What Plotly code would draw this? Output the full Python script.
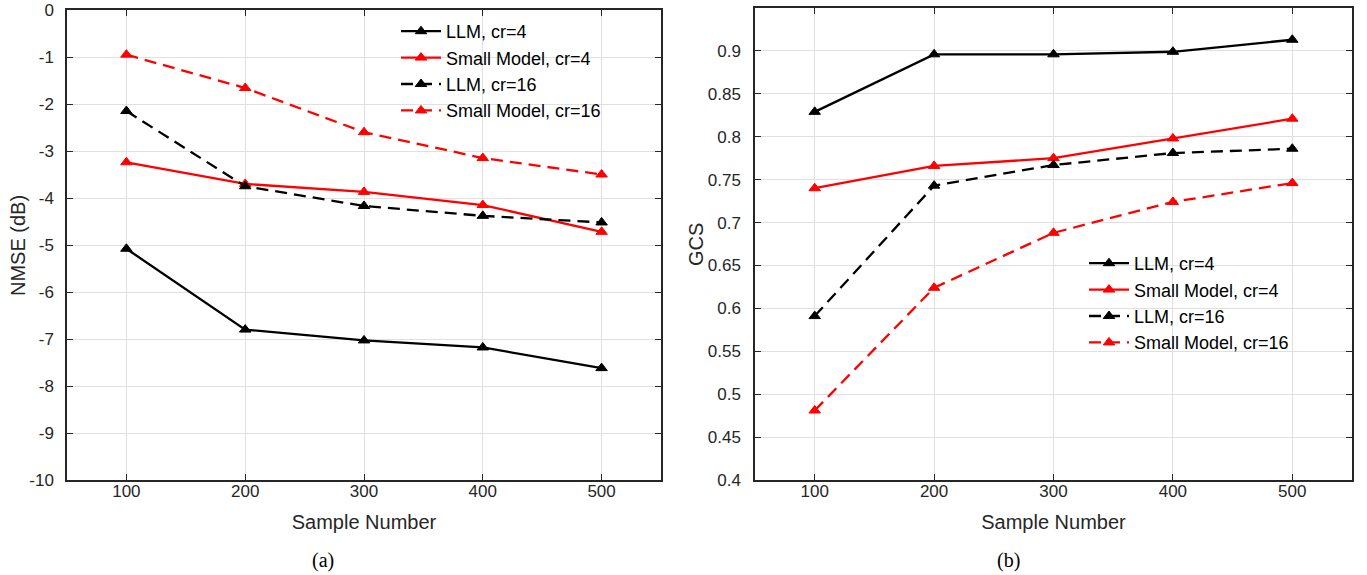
import plotly.graph_objects as go

samples = [100, 200, 300, 400, 500]
series_names = ["LLM, cr=4", "Small Model, cr=4", "LLM, cr=16", "Small Model, cr=16"]

nmse_llm_cr4 = [-5.08, -6.80, -7.03, -7.18, -7.62]
nmse_small_cr4 = [-3.24, -3.70, -3.87, -4.15, -4.72]
nmse_llm_cr16 = [-2.15, -3.75, -4.17, -4.38, -4.52]
nmse_small_cr16 = [-0.95, -1.66, -2.60, -3.15, -3.50]

gcs_llm_cr4 = [0.829, 0.896, 0.896, 0.899, 0.913]
gcs_small_cr4 = [0.740, 0.766, 0.775, 0.798, 0.821]
gcs_llm_cr16 = [0.591, 0.743, 0.767, 0.781, 0.786]
gcs_small_cr16 = [0.481, 0.624, 0.688, 0.724, 0.746]

x_ticks = [100, 200, 300, 400, 500]
nmse_ticks = [0, -1, -2, -3, -4, -5, -6, -7, -8, -9, -10]
nmse_tick_text = ["0", "-1", "-2", "-3", "-4", "-5", "-6", "-7", "-8", "-9", "-10"]
gcs_ticks = [0.4, 0.45, 0.5, 0.55, 0.6, 0.65, 0.7, 0.75, 0.8, 0.85, 0.9]
gcs_tick_text = ["0.4", "0.45", "0.5", "0.55", "0.6", "0.65", "0.7", "0.75", "0.8", "0.85", "0.9"]

colors = ["#000000", "#ff0000", "#000000", "#ff0000"]
dashes = ["solid", "solid", "12px,7px", "12px,7px"]

FONT = "Liberation Sans, Arial, sans-serif"
SERIF = "Liberation Serif, Times New Roman, serif"
TXT = "#262626"

fig = go.Figure()

left_data = [nmse_llm_cr4, nmse_small_cr4, nmse_llm_cr16, nmse_small_cr16]
right_data = [gcs_llm_cr4, gcs_small_cr4, gcs_llm_cr16, gcs_small_cr16]

for i, ys in enumerate(left_data):
    fig.add_trace(go.Scatter(
        x=samples, y=ys, name=series_names[i], mode="lines+markers",
        line=dict(color=colors[i], width=2.3, dash=dashes[i]),
        marker=dict(symbol="triangle-up", size=10, color=colors[i],
                    line=dict(color=colors[i], width=1)),
        xaxis="x", yaxis="y", legend="legend"))

for i, ys in enumerate(right_data):
    fig.add_trace(go.Scatter(
        x=samples, y=ys, name=series_names[i], mode="lines+markers",
        line=dict(color=colors[i], width=2.3, dash=dashes[i]),
        marker=dict(symbol="triangle-up", size=10, color=colors[i],
                    line=dict(color=colors[i], width=1)),
        xaxis="x2", yaxis="y2", legend="legend2"))

axis_common = dict(
    showline=True, linecolor=TXT, linewidth=1.5, mirror="allticks",
    ticks="inside", ticklen=6, tickcolor=TXT, tickwidth=1,
    showgrid=True, gridcolor="#e0e0e0", gridwidth=1, zeroline=False,
    tickfont=dict(family=FONT, size=17, color=TXT), automargin=False,
)
title_font = dict(size=20, family=FONT, color=TXT)

fig.update_layout(
    width=1367, height=575,
    margin=dict(l=0, r=0, t=0, b=0, autoexpand=False),
    paper_bgcolor="white", plot_bgcolor="white",
    font=dict(family=FONT, color=TXT),
    xaxis=dict(domain=[67/1367, 661/1367], range=[50, 550], tickvals=x_ticks,
               title=dict(text="Sample Number", font=title_font, standoff=15),
               anchor="y", ticklabelstandoff=-5, **axis_common),
    yaxis=dict(domain=[1-480/575, 1-10/575], range=[-10, 0], tickvals=nmse_ticks, ticktext=nmse_tick_text,
               anchor="x", ticklabelstandoff=8, **axis_common),
    xaxis2=dict(domain=[755/1367, 1352/1367], range=[50, 550], tickvals=x_ticks,
                title=dict(text="Sample Number", font=title_font, standoff=15),
                anchor="y2", ticklabelstandoff=-5, **axis_common),
    yaxis2=dict(domain=[1-480/575, 1-8/575], range=[0.4, 0.95], tickvals=gcs_ticks, ticktext=gcs_tick_text,
                anchor="x2", ticklabelstandoff=9, **axis_common),
    legend=dict(x=396/1367, y=1-13/575, xanchor="left", yanchor="top",
                bgcolor="rgba(255,255,255,0)", borderwidth=0,
                font=dict(family=FONT, size=18, color="#000000"), tracegroupgap=0,
                itemwidth=40),
    legend2=dict(x=1084/1367, y=1-245/575, xanchor="left", yanchor="top",
                 bgcolor="rgba(255,255,255,0)", borderwidth=0,
                 font=dict(family=FONT, size=18, color="#000000"), tracegroupgap=0,
                 itemwidth=40),
    annotations=[
        dict(text="NMSE (dB)", x=18/1367, y=1-246/575, xref="paper", yref="paper",
             textangle=-90, showarrow=False, xanchor="center", yanchor="middle",
             font=title_font),
        dict(text="GCS", x=696/1367, y=1-245/575, xref="paper", yref="paper",
             textangle=-90, showarrow=False, xanchor="center", yanchor="middle",
             font=title_font),
        dict(text="(a)", x=323/1367, y=1-560/575, xref="paper", yref="paper",
             showarrow=False, xanchor="center", yanchor="middle",
             font=dict(family=SERIF, size=20, color="#000000")),
        dict(text="(b)", x=1008/1367, y=1-560/575, xref="paper", yref="paper",
             showarrow=False, xanchor="center", yanchor="middle",
             font=dict(family=SERIF, size=20, color="#000000")),
    ],
)

fig.write_html("out.html", config={"displayModeBar": False},
               post_script="document.body.style.margin='0';")
